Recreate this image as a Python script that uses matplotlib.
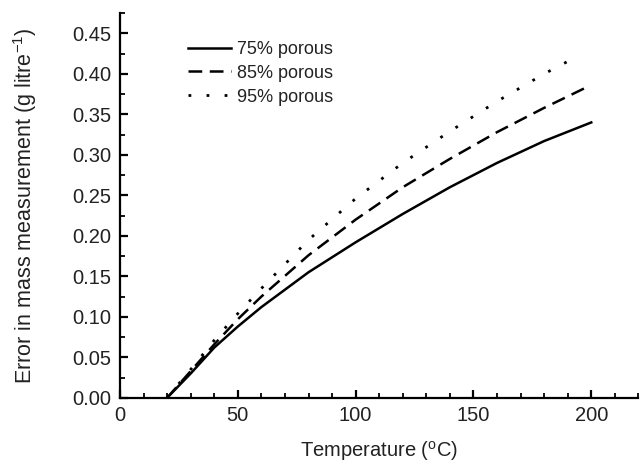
import matplotlib
matplotlib.use('Agg')
import matplotlib.pyplot as plt
from matplotlib.ticker import MultipleLocator

plt.rcParams['font.family'] = ['Liberation Sans', 'DejaVu Sans']

t75 = [20, 30, 40, 50, 60, 80, 100, 120, 140, 160, 180, 200]
e75 = [0.0, 0.030, 0.062, 0.088, 0.112, 0.155, 0.192, 0.227, 0.260, 0.290, 0.317, 0.340]

t85 = [20, 30, 40, 50, 60, 80, 100, 120, 140, 160, 180, 197]
e85 = [0.0, 0.033, 0.066, 0.097, 0.125, 0.176, 0.220, 0.260, 0.295, 0.328, 0.358, 0.382]

t95 = [20, 30, 40, 50, 60, 80, 100, 120, 140, 160, 180, 195]
e95 = [0.0, 0.035, 0.071, 0.104, 0.135, 0.195, 0.246, 0.290, 0.329, 0.366, 0.400, 0.423]

ink = '#222222'

fig = plt.figure(figsize=(6.4, 4.68), dpi=100)
ax = fig.add_axes([0.1875, 0.150, 0.81, 0.822])

ax.plot(t75, e75, color='black', lw=1.8, label='75% porous')
ax.plot(t85, e85, color='black', lw=1.8, dashes=(5.5, 3), label='85% porous')
ax.plot(t95, e95, color='black', lw=2.0, dashes=(1.0, 5.5), label='95% porous')

ax.set_xlim(0, 220)
ax.set_ylim(0, 0.475)
ax.xaxis.set_major_locator(MultipleLocator(50))
ax.xaxis.set_minor_locator(MultipleLocator(10))
ax.yaxis.set_major_locator(MultipleLocator(0.05))
ax.yaxis.set_minor_locator(MultipleLocator(0.025))
ax.yaxis.set_major_formatter(plt.FormatStrFormatter('%.2f'))

ax.spines['top'].set_visible(False)
ax.spines['right'].set_visible(False)
for s in ['left', 'bottom']:
    ax.spines[s].set_linewidth(1.6)
ax.tick_params(which='major', direction='in', length=6, width=1.6, labelsize=14.5,
               labelcolor=ink, pad=6)
ax.tick_params(which='minor', direction='in', length=3.5, width=1.3)

ax.set_xlabel('Temperature ($^{\\mathregular{o}}$C)', fontsize=14.5, color=ink, labelpad=10)
ax.set_ylabel('Error in mass measurement (g litre$^{\\mathregular{-1}}$)', fontsize=15.5,
              color=ink, labelpad=24)

leg = ax.legend(loc='upper left', bbox_to_anchor=(0.1, 0.97), frameon=False, fontsize=13,
                handlelength=2.4, handletextpad=0.3, labelspacing=0.38)
for txt in leg.get_texts():
    txt.set_color(ink)

fig.savefig('out.png', dpi=100)
